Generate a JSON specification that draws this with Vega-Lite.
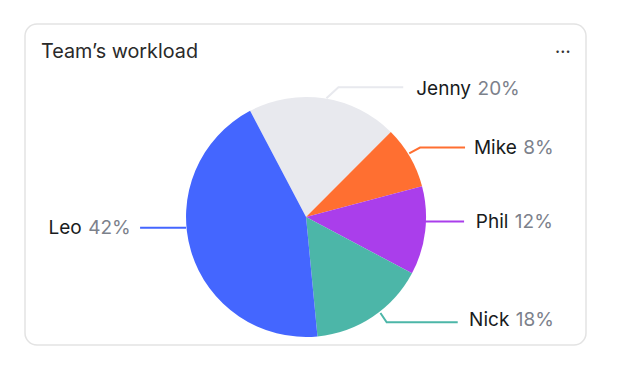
{
  "$schema": "https://vega.github.io/schema/vega-lite/v6.json",
  "width": 620,
  "height": 370,
  "autosize": {"type": "fit", "contains": "padding"},
  "padding": {"left": 25, "top": 24, "right": 34, "bottom": 25},
  "background": "white",
  "title": {
    "text": "Team’s workload",
    "anchor": "start",
    "frame": "group",
    "dx": 16,
    "offset": -48,
    "baseline": "middle",
    "font": "Inter",
    "fontSize": 19.8,
    "fontWeight": 400,
    "color": "#2a2a2a"
  },
  "config": {
    "view": {"stroke": "#e3e3e3", "strokeWidth": 1.5, "cornerRadius": 12, "fill": "white"}
  },
  "datasets": {
    "slices": [
      {"name": "Jenny", "share": 20.2, "order": 1},
      {"name": "Mike", "share": 8.4, "order": 2},
      {"name": "Phil", "share": 11.9, "order": 3},
      {"name": "Nick", "share": 15.7, "order": 4},
      {"name": "Leo", "share": 43.8, "order": 5}
    ],
    "leaders": [
      {"name": "Jenny", "step": 1, "x": 0.17, "y": 0.99},
      {"name": "Jenny", "step": 2, "x": 0.27, "y": 1.08},
      {"name": "Jenny", "step": 3, "x": 0.81, "y": 1.08},
      {"name": "Mike", "step": 1, "x": 0.86, "y": 0.53},
      {"name": "Mike", "step": 2, "x": 0.95, "y": 0.578},
      {"name": "Mike", "step": 3, "x": 1.325, "y": 0.578},
      {"name": "Phil", "step": 1, "x": 0.99, "y": -0.037},
      {"name": "Phil", "step": 2, "x": 1.317, "y": -0.037},
      {"name": "Nick", "step": 1, "x": 0.62, "y": -0.80},
      {"name": "Nick", "step": 2, "x": 0.672, "y": -0.878},
      {"name": "Nick", "step": 3, "x": 1.264, "y": -0.878},
      {"name": "Leo", "step": 1, "x": -1.383, "y": -0.089},
      {"name": "Leo", "step": 2, "x": -1.0, "y": -0.089}
    ],
    "labels": [
      {"name": "Jenny", "pct": "20%", "x": 1.375, "y": 1.068},
      {"name": "Mike", "pct": "8%", "x": 1.756, "y": 0.575},
      {"name": "Phil", "pct": "12%", "x": 1.686, "y": -0.04},
      {"name": "Nick", "pct": "18%", "x": 1.694, "y": -0.86},
      {"name": "Leo", "pct": "42%", "x": -1.869, "y": -0.09}
    ],
    "menu": [{"t": "...", "x": 2.14, "y": 1.41}]
  },
  "layer": [
    {
      "data": {"name": "slices"},
      "mark": {"type": "arc", "outerRadius": 120},
      "encoding": {
        "x": {"datum": 0, "type": "quantitative", "scale": {"domain": [-2.342, 2.333], "nice": false, "zero": false}, "axis": null},
        "y": {"datum": 0, "type": "quantitative", "scale": {"domain": [-1.067, 1.608], "nice": false, "zero": false}, "axis": null},
        "theta": {"field": "share", "type": "quantitative", "stack": true, "scale": {"range": [-0.485, 5.798]}},
        "order": {"field": "order", "type": "quantitative"},
        "color": {
          "field": "name", "type": "nominal", "legend": null,
          "scale": {"domain": ["Jenny", "Mike", "Phil", "Nick", "Leo"], "range": ["#e8e9ee", "#ff6f31", "#aa3eeb", "#4cb6a8", "#4466ff"]}
        }
      }
    },
    {
      "data": {"name": "leaders"},
      "mark": {"type": "line", "strokeWidth": 2},
      "encoding": {
        "x": {"field": "x", "type": "quantitative", "scale": {"domain": [-2.342, 2.333], "nice": false, "zero": false}, "axis": null},
        "y": {"field": "y", "type": "quantitative", "scale": {"domain": [-1.067, 1.608], "nice": false, "zero": false}, "axis": null},
        "order": {"field": "step", "type": "quantitative"},
        "detail": {"field": "name"},
        "color": {"field": "name", "type": "nominal", "legend": null}
      }
    },
    {
      "data": {"name": "labels"},
      "mark": {"type": "text", "align": "right", "baseline": "middle", "font": "Inter", "fontSize": 19, "fontWeight": 400, "color": "#181b20"},
      "encoding": {
        "x": {"field": "x", "type": "quantitative", "scale": {"domain": [-2.342, 2.333], "nice": false, "zero": false}, "axis": null},
        "y": {"field": "y", "type": "quantitative", "scale": {"domain": [-1.067, 1.608], "nice": false, "zero": false}, "axis": null},
        "text": {"field": "name"}
      }
    },
    {
      "data": {"name": "labels"},
      "mark": {"type": "text", "align": "left", "baseline": "middle", "dx": 6.5, "font": "Inter", "fontSize": 19, "color": "#7c818b"},
      "encoding": {
        "x": {"field": "x", "type": "quantitative", "scale": {"domain": [-2.342, 2.333], "nice": false, "zero": false}, "axis": null},
        "y": {"field": "y", "type": "quantitative", "scale": {"domain": [-1.067, 1.608], "nice": false, "zero": false}, "axis": null},
        "text": {"field": "pct"}
      }
    },
    {
      "data": {"name": "menu"},
      "mark": {"type": "text", "align": "center", "baseline": "middle", "font": "Inter", "fontSize": 17, "fontWeight": 500, "color": "#333333"},
      "encoding": {
        "x": {"field": "x", "type": "quantitative", "scale": {"domain": [-2.342, 2.333], "nice": false, "zero": false}, "axis": null},
        "y": {"field": "y", "type": "quantitative", "scale": {"domain": [-1.067, 1.608], "nice": false, "zero": false}, "axis": null},
        "text": {"field": "t"}
      }
    }
  ]
}
